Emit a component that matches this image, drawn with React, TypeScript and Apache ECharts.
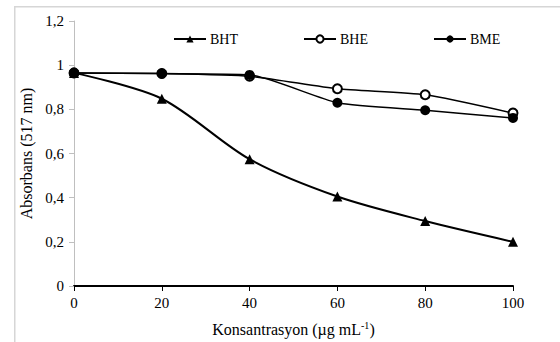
import React, { useEffect, useRef } from "react";
import * as echarts from "echarts";

const concentrations = [0, 20, 40, 60, 80, 100];
const bhtValues = [0.965, 0.848, 0.574, 0.405, 0.294, 0.2];
const bheValues = [0.965, 0.962, 0.95, 0.893, 0.866, 0.783];
const bmeValues = [0.965, 0.962, 0.956, 0.83, 0.796, 0.761];
const seriesNames = ["BHT", "BHE", "BME"];

const FONT = "Times New Roman, Liberation Serif, serif";

export default function App() {
  const ref = useRef<HTMLDivElement>(null);
  useEffect(() => {
    document.body.style.margin = "0";
    if (!ref.current) return;
    const chart = echarts.init(ref.current, null, { renderer: "svg" });
    const toPairs = (vals: number[]) => concentrations.map((c, i) => [c, vals[i]]);
    const legendBase = {
      top: 32,
      padding: 0,
      itemWidth: 32,
      itemHeight: 9,
      itemGap: 4,
      textStyle: { fontFamily: FONT, fontSize: 14, color: "#000", padding: [0, 0, 0, -1] },
    };
    chart.setOption({
      animation: false,
      backgroundColor: "#fff",
      textStyle: { fontFamily: FONT },
      graphic: {
        elements: [
          {
            type: "rect",
            left: 14,
            top: 6,
            z: 100,
            shape: { x: 0, y: 0, width: 600, height: 400 },
            style: { fill: "transparent", stroke: "#d6d6d6", lineWidth: 1.5 },
            silent: true,
          },
        ],
      },
      legend: [
        { ...legendBase, left: 173, data: [seriesNames[0]] },
        { ...legendBase, left: 303, data: [seriesNames[1]] },
        { ...legendBase, left: 433, data: [seriesNames[2]] },
      ],
      grid: { left: 74, right: 47, top: 21, bottom: 55 },
      xAxis: {
        type: "value",
        min: 0,
        max: 100,
        interval: 20,
        name: "Konsantrasyon (µg mL{sup|-1})",
        nameLocation: "middle",
        nameGap: 34,
        nameTextStyle: {
          fontFamily: FONT,
          fontSize: 16,
          color: "#000",
          rich: { sup: { fontFamily: FONT, fontSize: 10, verticalAlign: "top", padding: [0, 0, 8, 0], color: "#000" } },
        },
        axisLine: { lineStyle: { color: "#000", width: 2 } },
        axisTick: { show: true, length: 5, lineStyle: { color: "#000", width: 1 } },
        axisLabel: { fontFamily: FONT, fontSize: 15, color: "#000", margin: 9 },
        splitLine: { show: false },
      },
      yAxis: {
        type: "value",
        min: 0,
        max: 1.2,
        interval: 0.2,
        name: "Absorbans (517 nm)",
        nameLocation: "middle",
        nameGap: 39,
        nameTextStyle: { fontFamily: FONT, fontSize: 16, color: "#000" },
        axisLine: { show: true, lineStyle: { color: "#bfbfbf", width: 1 } },
        axisTick: { show: true, length: 5, lineStyle: { color: "#bfbfbf" } },
        axisLabel: {
          fontFamily: FONT,
          fontSize: 15,
          color: "#000",
          margin: 10,
          formatter: (v: number) => {
            const r = Math.round(v * 10) / 10;
            return String(r).replace(".", ",");
          },
        },
        splitLine: { show: false },
      },
      series: [
        {
          name: seriesNames[0],
          type: "line",
          data: toPairs(bhtValues),
          smooth: 0.3,
          symbol: "triangle",
          symbolSize: 10,
          itemStyle: { color: "#000" },
          lineStyle: { color: "#000", width: 2 },
          z: 3,
        },
        {
          name: seriesNames[1],
          type: "line",
          data: toPairs(bheValues),
          smooth: 0.2,
          symbol: "circle",
          symbolSize: 9,
          itemStyle: { color: "#fff", borderColor: "#000", borderWidth: 2 },
          lineStyle: { color: "#000", width: 1.5 },
          z: 2,
        },
        {
          name: seriesNames[2],
          type: "line",
          data: toPairs(bmeValues),
          smooth: 0.2,
          symbol: "circle",
          symbolSize: 10,
          itemStyle: { color: "#000" },
          lineStyle: { color: "#000", width: 1.5 },
          z: 4,
        },
      ],
    });
    return () => chart.dispose();
  }, []);
  return <div ref={ref} style={{ width: 560, height: 342 }} />;
}
